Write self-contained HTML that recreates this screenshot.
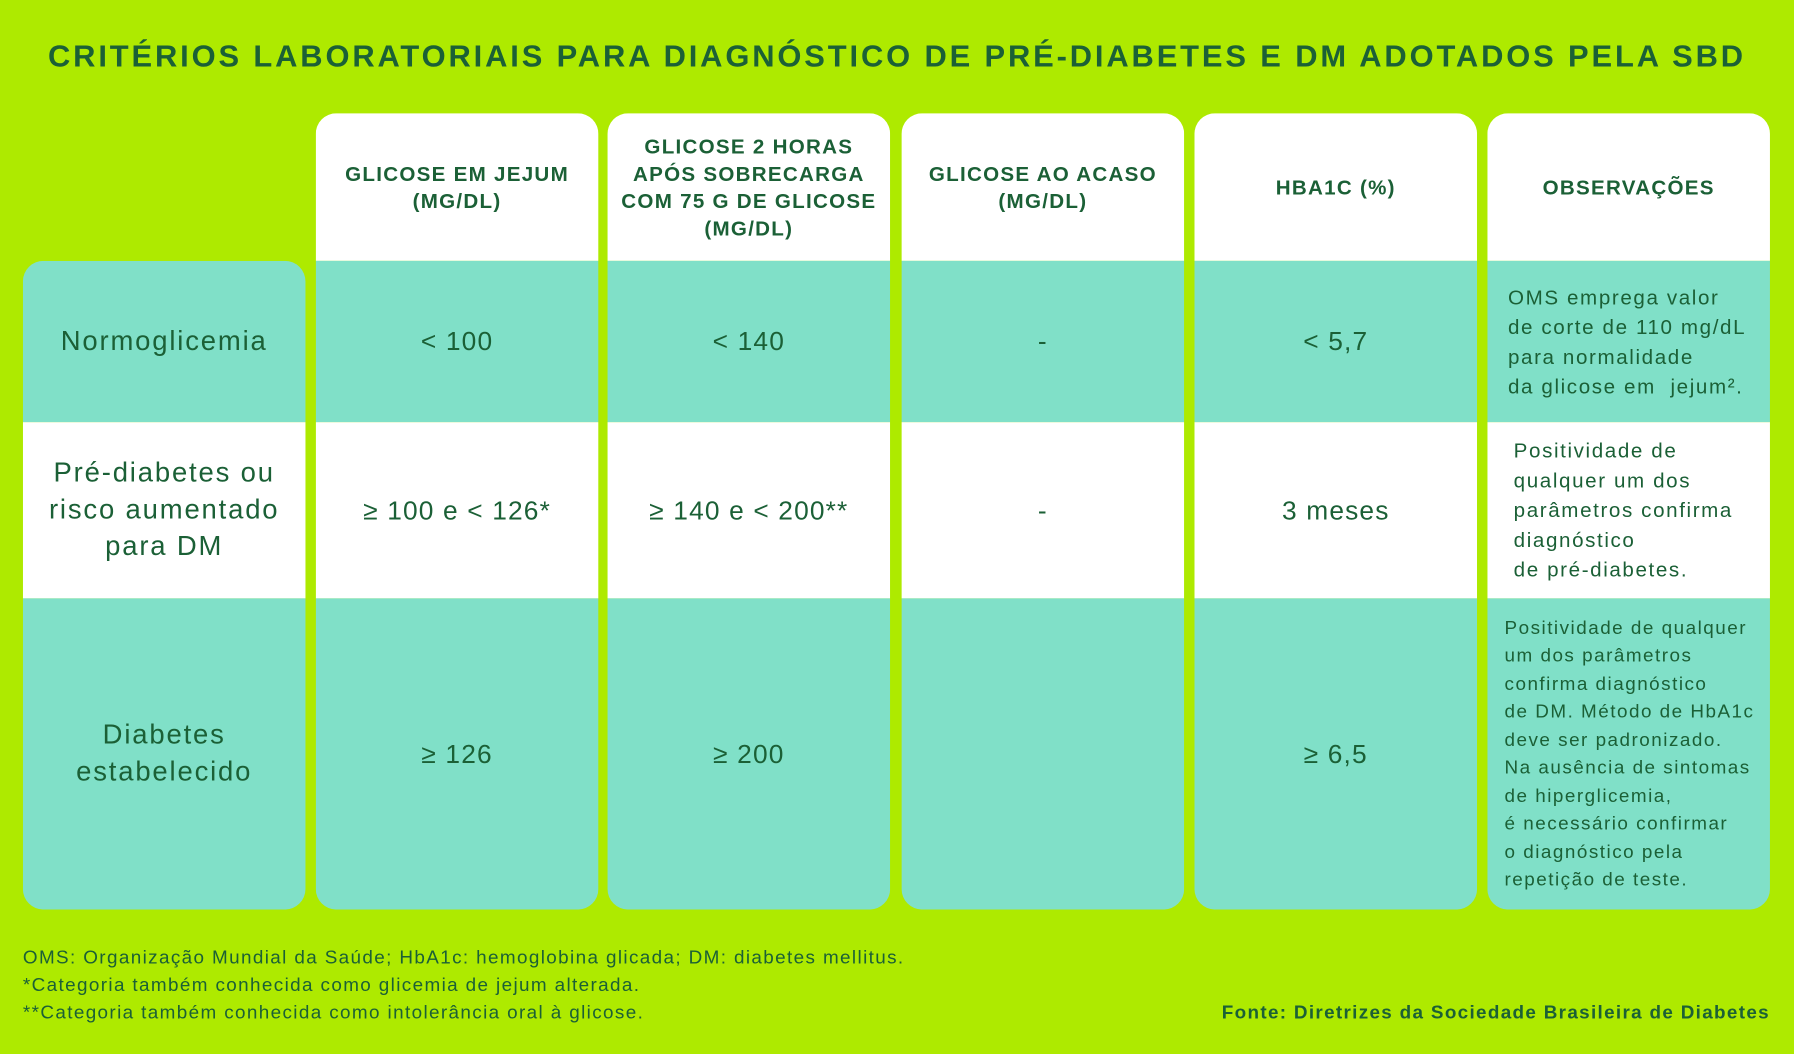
<!DOCTYPE html>
<html><head><meta charset="utf-8"><style>
html,body{margin:0;padding:0;background:#aeea00;}
body{width:1794px;height:1054px;overflow:hidden;}
#w{position:absolute;left:0;top:0;width:1568px;height:921px;transform:scale(1.14413);transform-origin:0 0;font-family:"Liberation Sans",sans-serif;color:#1b6036;}
.t{position:absolute;left:0;width:1568px;top:34px;text-align:center;font-weight:bold;font-size:27px;letter-spacing:2.5px;color:#1b6036;}
.col{position:absolute;width:247px;border-radius:18px;overflow:hidden;}
.c{position:absolute;left:0;width:247px;display:flex;align-items:center;justify-content:center;text-align:center;box-sizing:border-box;letter-spacing:1px;}
.h{top:0;height:129px;background:#fff;font-weight:bold;font-size:18px;line-height:24px;padding:0 6px;letter-spacing:1.1px;}
.r1{background:#80e0c8;font-size:23px;}
.r2{background:#fff;font-size:23px;}
.o{justify-content:flex-start;text-align:left;padding-left:18px;padding-right:0;font-size:18px;line-height:26px;letter-spacing:1.4px;white-space:nowrap;}
.lab{font-size:24px;letter-spacing:1.6px;}
.f{position:absolute;left:20px;font-size:16.5px;letter-spacing:1.2px;}
</style></head><body><div id="w">
<div class="t">CRITÉRIOS LABORATORIAIS PARA DIAGNÓSTICO DE PRÉ-DIABETES E DM ADOTADOS PELA SBD</div>

<div class="col" style="left:20px;top:228px;height:567px;">
<div class="c r1 lab" style="top:0;height:141px;">Normoglicemia</div>
<div class="c r2 lab" style="top:141px;height:154px;line-height:32px;">Pré-diabetes ou<br>risco aumentado<br>para DM</div>
<div class="c r1 lab" style="top:295px;height:272px;line-height:32px;">Diabetes<br>estabelecido</div>
</div>

<div class="col" style="left:276px;top:99px;height:696px;">
<div class="c h">GLICOSE EM JEJUM<br>(MG/DL)</div>
<div class="c r1" style="top:129px;height:141px;">&lt; 100</div>
<div class="c r2" style="top:270px;height:154px;">≥ 100 e &lt; 126*</div>
<div class="c r1" style="top:424px;height:272px;">≥ 126</div>
</div>

<div class="col" style="left:531px;top:99px;height:696px;">
<div class="c h">GLICOSE 2 HORAS<br>APÓS SOBRECARGA<br>COM 75 G DE GLICOSE<br>(MG/DL)</div>
<div class="c r1" style="top:129px;height:141px;">&lt; 140</div>
<div class="c r2" style="top:270px;height:154px;">≥ 140 e &lt; 200**</div>
<div class="c r1" style="top:424px;height:272px;">≥ 200</div>
</div>

<div class="col" style="left:788px;top:99px;height:696px;">
<div class="c h">GLICOSE AO ACASO<br>(MG/DL)</div>
<div class="c r1" style="top:129px;height:141px;">-</div>
<div class="c r2" style="top:270px;height:154px;">-</div>
<div class="c r1" style="top:424px;height:272px;"></div>
</div>

<div class="col" style="left:1044px;top:99px;height:696px;">
<div class="c h">HBA1C (%)</div>
<div class="c r1" style="top:129px;height:141px;">&lt; 5,7</div>
<div class="c r2" style="top:270px;height:154px;">3 meses</div>
<div class="c r1" style="top:424px;height:272px;">≥ 6,5</div>
</div>

<div class="col" style="left:1300px;top:99px;height:696px;">
<div class="c h">OBSERVAÇÕES</div>
<div class="c r1 o" style="top:129px;height:141px;">OMS emprega valor<br>de corte de 110 mg/dL<br>para normalidade<br>da glicose em&nbsp; jejum².</div>
<div class="c r2 o" style="top:270px;height:154px;padding-left:23px;">Positividade de<br>qualquer um dos<br>parâmetros confirma<br>diagnóstico<br>de pré-diabetes.</div>
<div class="c r1 o" style="top:424px;height:272px;font-size:16.5px;line-height:24.5px;padding-left:15px;letter-spacing:1.3px;">Positividade de qualquer<br>um dos parâmetros<br>confirma diagnóstico<br>de DM. Método de HbA1c<br>deve ser padronizado.<br>Na ausência de sintomas<br>de hiperglicemia,<br>é necessário confirmar<br>o diagnóstico pela<br>repetição de teste.</div>
</div>

<div class="f" style="top:828px;">OMS: Organização Mundial da Saúde; HbA1c: hemoglobina glicada; DM: diabetes mellitus.</div>
<div class="f" style="top:852px;">*Categoria também conhecida como glicemia de jejum alterada.</div>
<div class="f" style="top:876px;">**Categoria também conhecida como intolerância oral à glicose.</div>
<div style="position:absolute;right:21px;top:876px;font-size:16.5px;font-weight:bold;letter-spacing:1.15px;">Fonte: Diretrizes da Sociedade Brasileira de Diabetes</div>
</div></body></html>
